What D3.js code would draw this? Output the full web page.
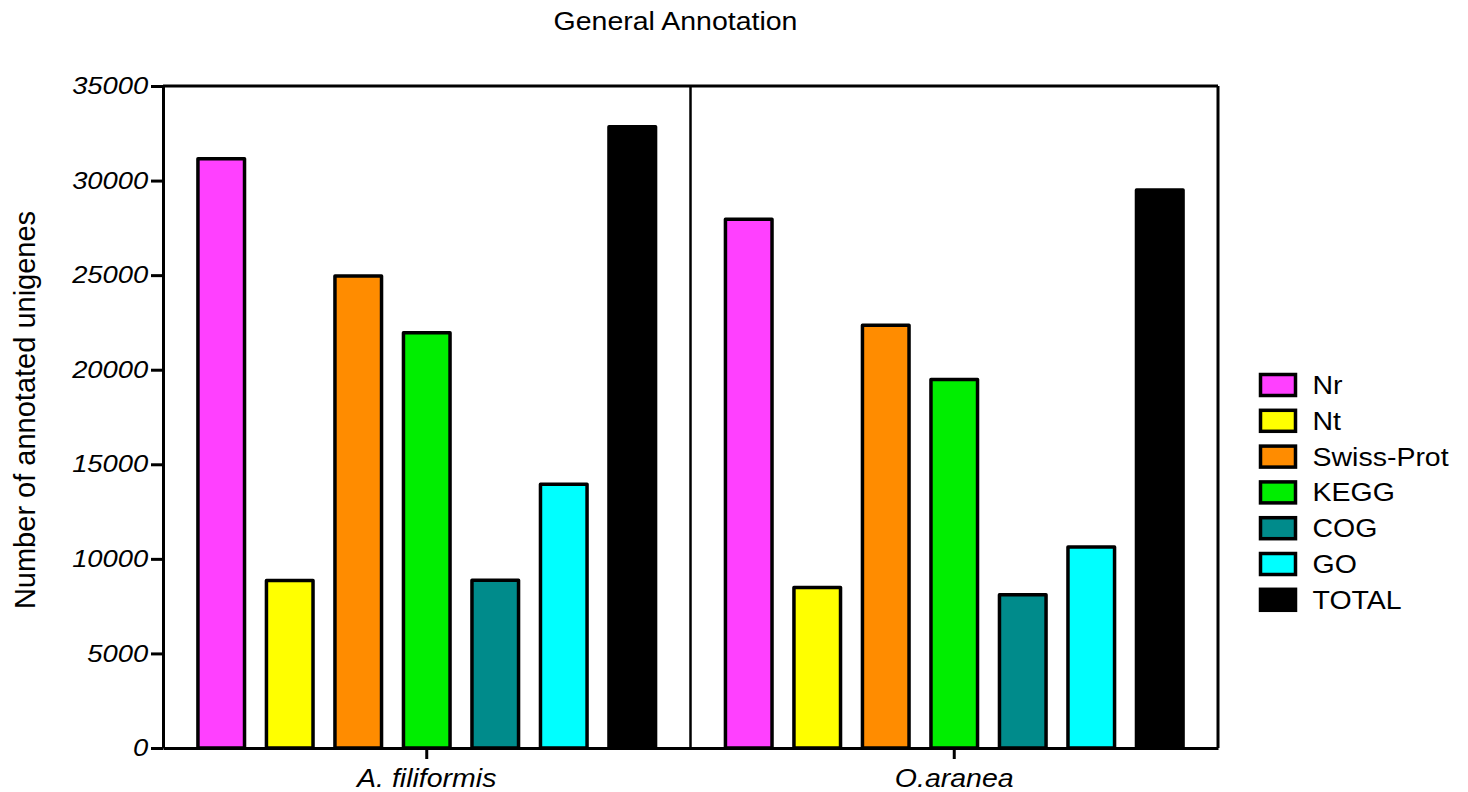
<!DOCTYPE html>
<html><head><meta charset="utf-8">
<script src="https://cdn.jsdelivr.net/npm/d3@7"></script>
<style>body{margin:0;background:#fff}svg{display:block}</style>
</head><body><svg id="c" width="1468" height="792"></svg>
<script>
const groups = ["A. filiformis", "O.aranea"];
const series = ["Nr", "Nt", "Swiss-Prot", "KEGG", "COG", "GO", "TOTAL"];
const colors = ["#ff40ff", "#ffff00", "#ff8c00", "#00ee00", "#008b8b", "#00ffff", "#000000"];
const valuesAfiliformis = [31150, 8850, 24950, 21950, 8870, 13950, 32850];
const valuesOaranea = [27950, 8480, 22350, 19480, 8100, 10630, 29500];
const yTicks = [0, 5000, 10000, 15000, 20000, 25000, 30000, 35000];
const allValues = [valuesAfiliformis, valuesOaranea];

const svg = d3.select("#c");
const L = 163, R = 1218, T = 86, B = 748;
const font = "'Liberation Sans', Arial, sans-serif";
const SX = 1.14;

const y = d3.scaleLinear().domain([0, 35000]).range([B, T]);
const x0 = d3.scaleBand().domain(groups).range([L, R]);
const x1 = d3.scaleBand().domain(series).range([0, x0.bandwidth()]).paddingInner(0.32).paddingOuter(0.51);
const color = d3.scaleOrdinal().domain(series).range(colors);

// title
svg.append("text").attr("transform", `translate(675.5,30) scale(${SX},1)`).attr("text-anchor", "middle")
  .attr("font-family", font).attr("font-size", 25).text("General Annotation");

// bars
groups.forEach((g, gi) => {
  svg.append("g").selectAll("rect").data(series.map((s, i) => ({s, v: allValues[gi][i]})))
    .join("rect")
    .attr("x", d => x0(g) + x1(d.s))
    .attr("y", d => y(d.v))
    .attr("width", x1.bandwidth())
    .attr("height", d => B - y(d.v))
    .attr("fill", d => color(d.s))
    .attr("stroke", "#000").attr("stroke-width", 3.5).attr("stroke-linejoin", "round");
});

// frame: top, right, divider
svg.append("line").attr("x1", L).attr("x2", R).attr("y1", T).attr("y2", T).attr("stroke", "#000").attr("stroke-width", 3);
svg.append("line").attr("x1", R).attr("x2", R).attr("y1", T).attr("y2", B).attr("stroke", "#000").attr("stroke-width", 3);
svg.append("line").attr("x1", x0(groups[1])).attr("x2", x0(groups[1])).attr("y1", T).attr("y2", B).attr("stroke", "#000").attr("stroke-width", 2.5);

// y axis
const ya = svg.append("g").attr("transform", `translate(${L},0)`)
  .call(d3.axisLeft(y).tickValues(yTicks).tickSize(12).tickPadding(1).tickFormat(d3.format("d")).tickSizeOuter(0));
ya.select(".domain").attr("stroke-width", 3);
ya.selectAll(".tick line").attr("stroke-width", 3);
ya.selectAll("text").attr("font-family", font).attr("font-size", 24).attr("font-style", "italic").attr("fill", "#000")
  .attr("transform", `scale(${SX},1)`);

// x axis
const xa = svg.append("g").attr("transform", `translate(0,${B})`)
  .call(d3.axisBottom(x0).tickSize(11).tickPadding(10).tickSizeOuter(0));
xa.select(".domain").attr("stroke-width", 3);
xa.selectAll(".tick line").attr("stroke-width", 3);
xa.selectAll("text").attr("font-family", font).attr("font-size", 25).attr("font-style", "italic").attr("fill", "#000")
  .attr("transform", `scale(${SX},1)`);

// y title
svg.append("text").attr("transform", "translate(35,410) rotate(-90)").attr("text-anchor", "middle")
  .attr("font-family", font).attr("font-size", 29).text("Number of annotated unigenes");

// legend
const lg = svg.append("g").attr("transform", "translate(1260.5,374.5)");
series.forEach((s, i) => {
  const row = lg.append("g").attr("transform", `translate(0,${i * 35.8})`);
  row.append("rect").attr("x", 0).attr("y", 0).attr("width", 35).attr("height", 21)
    .attr("fill", color(s)).attr("stroke", "#000").attr("stroke-width", 3.5);
  row.append("text").attr("transform", `translate(52,19.5) scale(${SX},1)`).attr("font-family", font).attr("font-size", 25).text(s);
});
</script></body></html>
